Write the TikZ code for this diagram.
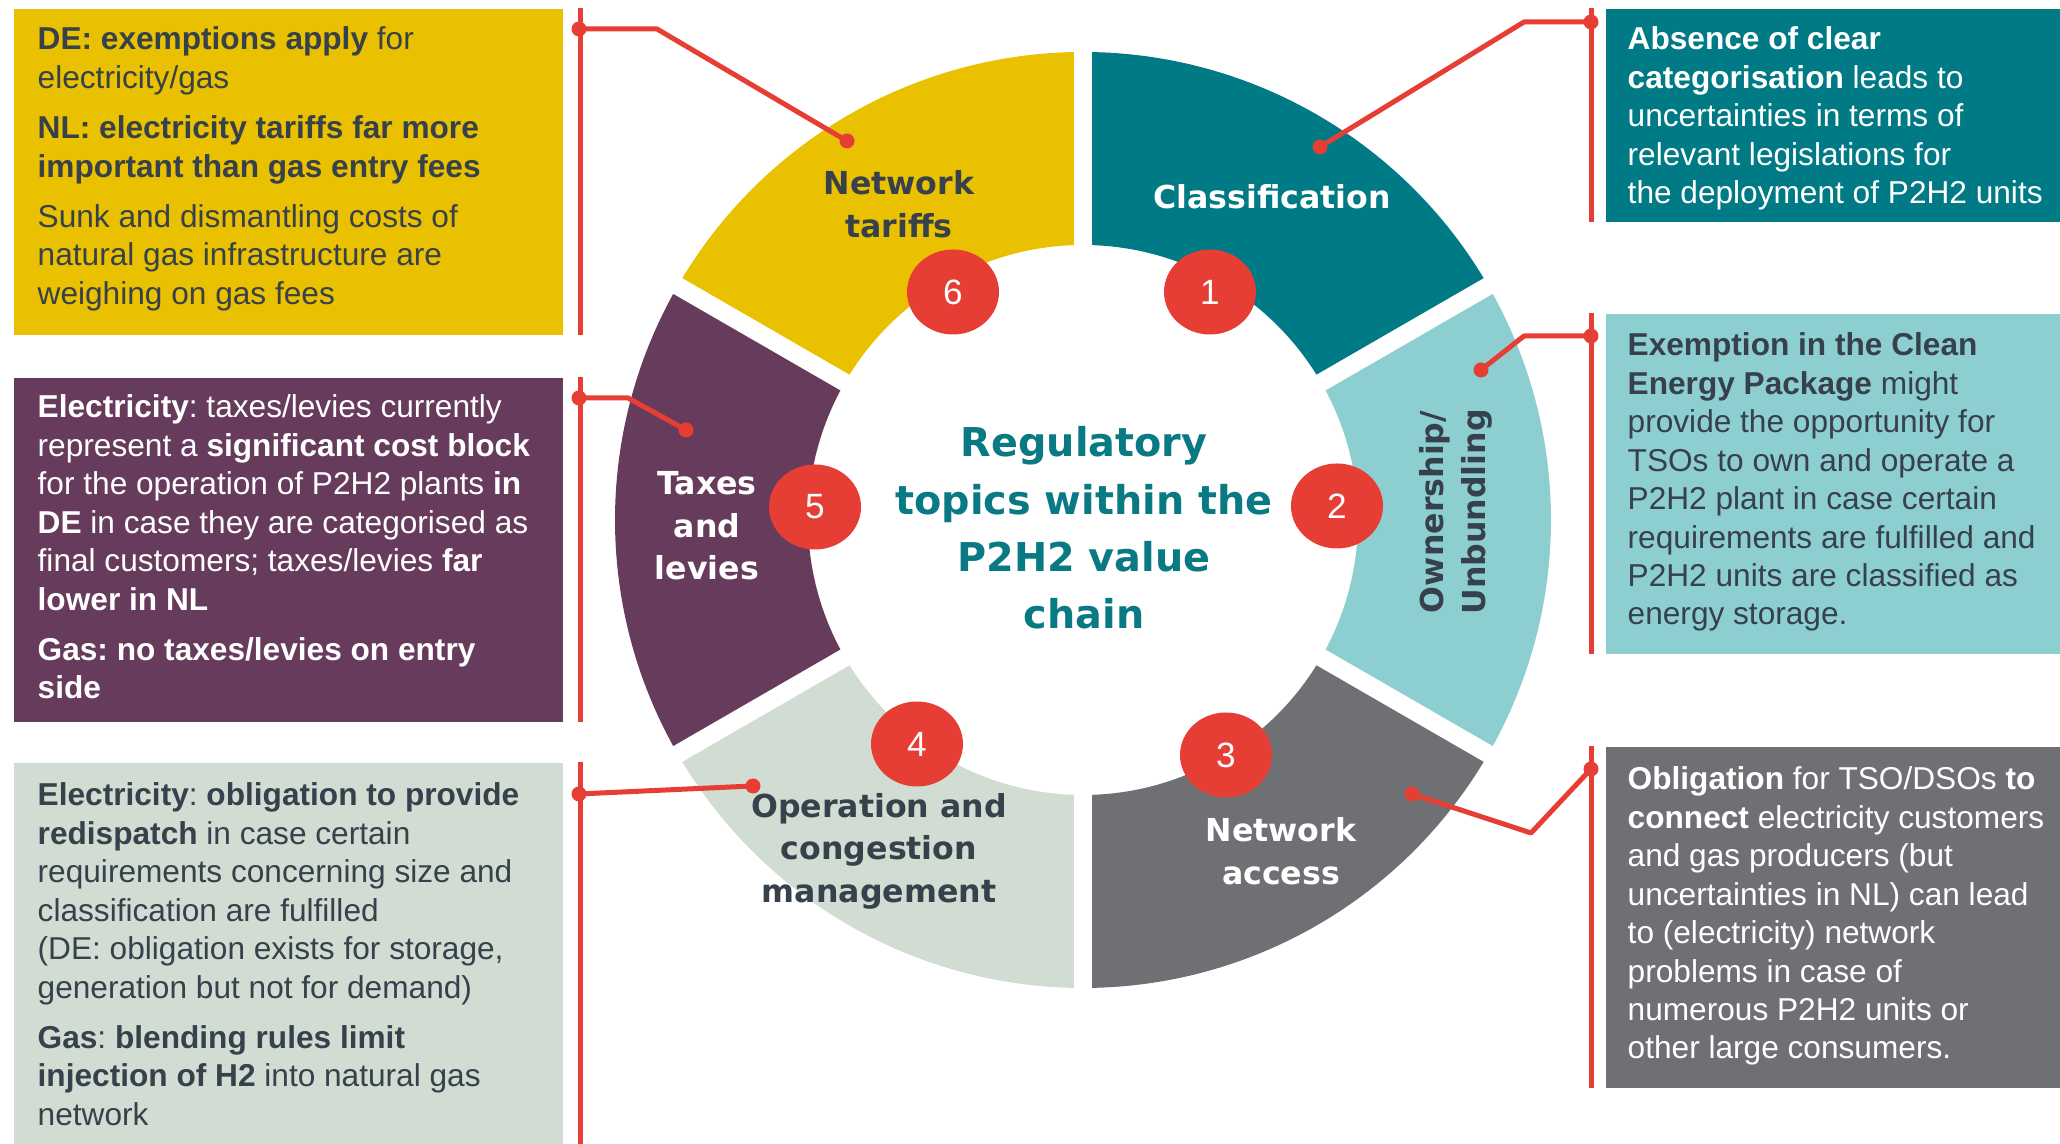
\documentclass[tikz,border=0pt]{standalone}
\usepackage{fontspec}
\setmainfont{Liberation Sans}
\newfontfamily\ringfont{DejaVu Sans}
\usepackage{tikz}
\usetikzlibrary{positioning}
\usetikzlibrary{shapes.geometric}

\definecolor{tariffyellow}{RGB}{233,193,0}
\definecolor{classteal}{RGB}{0,122,133}
\definecolor{ownteal}{RGB}{141,207,209}
\definecolor{accessgrey}{RGB}{111,112,116}
\definecolor{opgreen}{RGB}{209,220,211}
\definecolor{taxplum}{RGB}{103,59,91}
\definecolor{linkred}{RGB}{230,62,52}
\definecolor{inkdark}{RGB}{55,65,75}
\definecolor{hubteal}{RGB}{9,122,132}

\tikzset{
  infobox/.style={anchor=north west, inner sep=0pt, minimum width=5.49cm},
  sidebox/.style={anchor=north west, inner sep=0pt, minimum width=4.55cm},
  infotext/.style={anchor=north west, inner sep=0pt, align=left,
    font=\fontsize{9}{10.95}\selectfont\frenchspacing},
  ringlabel/.style={align=center, font=\ringfont\bfseries\fontsize{9}{12.1}\selectfont},
  badge/.style={ellipse, fill=linkred, text=white, minimum width=0.92cm,
    minimum height=0.85cm, inner sep=0pt, font=\fontsize{10}{12}\selectfont},
  link/.style={linkred, line width=0.05cm},
}

\begin{document}
\begin{tikzpicture}
    \useasboundingbox (0,0) rectangle (20.6,11.44);

    % ring of six topics
    \begin{scope}[shift={(10.83,6.24)}]
        \foreach \a/\b/\col in {30/90/classteal, -30/30/ownteal, -90/-30/accessgrey,
                                -150/-90/opgreen, 150/210/taxplum, 90/150/tariffyellow}
            \fill[\col] (\a:4.68) arc[start angle=\a, end angle=\b, radius=4.68]
                -- (\b:2.75) arc[start angle=\b, end angle=\a, radius=2.75] -- cycle;
        \foreach \a in {30,90,...,330}
            \draw[white, line width=0.18cm] (\a:2.6) -- (\a:4.8);
    \end{scope}

    \node[ringlabel, text=hubteal, font=\ringfont\bfseries\fontsize{11.3}{16.3}\selectfont]
        (hub) at (10.84,6.16) {Regulatory\\topics within the\\P2H2 value\\chain};
    \node[ringlabel, text=white] (classlabel) at (12.72,9.47) {Classification};
    \node[ringlabel, text=inkdark, rotate=90] (ownlabel) at (14.56,6.32) {Ownership/\\Unbundling};
    \node[ringlabel, text=white] (accesslabel) at (12.81,2.93) {Network\\access};
    \node[ringlabel, text=inkdark] (oplabel) at (8.79,2.93) {Operation and\\congestion\\management};
    \node[ringlabel, text=white] (taxlabel) at (7.07,6.18) {Taxes\\and\\levies};
    \node[ringlabel, text=inkdark] (tarifflabel) at (8.99,9.40) {Network\\tariffs};

    \node[badge] (n1) at (12.10,8.52) {1};
    \node[badge] (n2) at (13.37,6.38) {2};
    \node[badge] (n3) at (12.26,3.89) {3};
    \node[badge] (n4) at (9.17,4.00) {4};
    \node[badge] (n5) at (8.15,6.37) {5};
    \node[badge] (n6) at (9.53,8.52) {6};

    % boxes on the left
    \node[infobox, fill=tariffyellow, minimum height=3.26cm] (tariffbox) at (0.13,11.36) {};
    \node[infobox, fill=taxplum, minimum height=3.44cm] (taxbox) at (0.13,7.67) {};
    \node[infobox, fill=opgreen, minimum height=3.82cm] (opbox) at (0.13,3.82) {};

    % boxes on the right
    \node[sidebox, fill=classteal, minimum height=2.13cm] (classbox) at (16.05,11.36) {};
    \node[sidebox, fill=ownteal, minimum height=3.40cm] (ownbox) at (16.05,8.31) {};
    \node[sidebox, fill=accessgrey, minimum height=3.41cm] (accessbox) at (16.05,3.98) {};

    \node[infotext, text=inkdark] (tarifftext) at ([shift={(0.24,-0.18)}]tariffbox.north west)
        {\textbf{DE: exemptions apply} for\\
         electricity/gas\\[3.4pt]
         \textbf{NL: electricity tariffs far more}\\
         \textbf{important than gas entry fees}\\[3.4pt]
         Sunk and dismantling costs of\\
         natural gas infrastructure are\\
         weighing on gas fees};
    \node[infotext, text=white] (taxtext) at ([shift={(0.24,-0.17)}]taxbox.north west)
        {\textbf{Electricity}: taxes/levies currently\\
         represent a \textbf{significant cost block}\\
         for the operation of P2H2 plants \textbf{in}\\
         \textbf{DE} in case they are categorised as\\
         final customers; taxes/levies \textbf{far}\\
         \textbf{lower in NL}\\[3.4pt]
         \textbf{Gas: no taxes/levies on entry}\\
         \textbf{side}};
    \node[infotext, text=inkdark] (optext) at ([shift={(0.24,-0.20)}]opbox.north west)
        {\textbf{Electricity}: \textbf{obligation to provide}\\
         \textbf{redispatch} in case certain\\
         requirements concerning size and\\
         classification are fulfilled\\
         (DE: obligation exists for storage,\\
         generation but not for demand)\\[3.4pt]
         \textbf{Gas}: \textbf{blending rules limit}\\
         \textbf{injection of H2} into natural gas\\
         network};
    \node[infotext, text=white] (classtext) at ([shift={(0.22,-0.18)}]classbox.north west)
        {\textbf{Absence of clear}\\
         \textbf{categorisation} leads to\\
         uncertainties in terms of\\
         relevant legislations for\\
         the deployment of P2H2 units};
    \node[infotext, text=inkdark] (owntext) at ([shift={(0.22,-0.19)}]ownbox.north west)
        {\textbf{Exemption in the Clean}\\
         \textbf{Energy Package} might\\
         provide the opportunity for\\
         TSOs to own and operate a\\
         P2H2 plant in case certain\\
         requirements are fulfilled and\\
         P2H2 units are classified as\\
         energy storage.};
    \node[infotext, text=white] (accesstext) at ([shift={(0.22,-0.20)}]accessbox.north west)
        {\textbf{Obligation} for TSO/DSOs \textbf{to}\\
         \textbf{connect} electricity customers\\
         and gas producers (but\\
         uncertainties in NL) can lead\\
         to (electricity) network\\
         problems in case of\\
         numerous P2H2 units or\\
         other large consumers.};

    % red bars beside the boxes
    \foreach \b in {tariffbox,taxbox,opbox}
        \draw[link] ([xshift=0.17cm]\b.north east) -- ([xshift=0.17cm]\b.south east);
    \foreach \b in {classbox,ownbox,accessbox}
        \draw[link] ([xshift=-0.14cm]\b.north west) -- ([xshift=-0.14cm]\b.south west);

    % leader lines
    \coordinate (c1) at (13.20,9.97);
    \coordinate (k1) at (15.24,11.22);
    \coordinate (e1) at (15.91,11.22);
    \coordinate (c2) at (14.81,7.74);
    \coordinate (k2) at (15.24,8.08);
    \coordinate (e2) at (15.91,8.08);
    \coordinate (c3) at (14.12,3.50);
    \coordinate (k3) at (15.31,3.11);
    \coordinate (e3) at (15.91,3.75);
    \coordinate (c4) at (7.53,3.58);
    \coordinate (e4) at (5.79,3.50);
    \coordinate (c5) at (6.86,7.14);
    \coordinate (k5) at (6.28,7.46);
    \coordinate (e5) at (5.79,7.46);
    \coordinate (c6) at (8.47,10.03);
    \coordinate (k6) at (6.57,11.15);
    \coordinate (e6) at (5.79,11.15);

    \draw[link, line join=round] (c1) -- (k1) -- (e1);
    \draw[link, line join=round] (c2) -- (k2) -- (e2);
    \draw[link, line join=round] (c3) -- (k3) -- (e3);
    \draw[link] (c4) -- (e4);
    \draw[link, line join=round] (c5) -- (k5) -- (e5);
    \draw[link, line join=round] (c6) -- (k6) -- (e6);
    \foreach \p in {c1,e1,c2,e2,c3,e3,c4,e4,c5,e5,c6,e6}
        \fill[linkred] (\p) circle (0.075);
\end{tikzpicture}
\end{document}
